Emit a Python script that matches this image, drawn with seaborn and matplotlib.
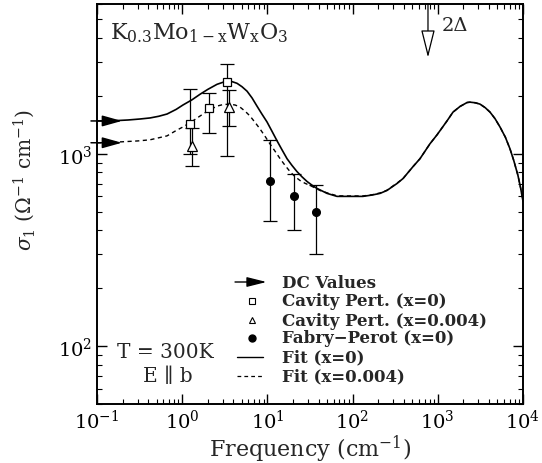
import matplotlib
matplotlib.use("Agg")
import matplotlib.pyplot as plt
import seaborn as sns
import pandas as pd

# curves (frequency in cm^-1, sigma_1 in Ohm^-1 cm^-1)
fit0_freq = [0.1, 0.15, 0.231, 0.32, 0.419, 0.53, 0.664, 0.85, 1.02, 1.3, 1.62,
             2.0, 2.56, 3.0, 3.36, 3.9, 4.40, 5.03, 5.77, 6.6, 7.55, 8.6, 9.89,
             11.3, 12.97, 14.8, 17.0, 19.4, 22.2, 25.5, 29.2, 33.4, 38.2, 44, 50.1,
             65.6, 86.0, 132, 170, 210, 253, 332, 391, 512, 618, 809, 979, 1282,
             1508, 1823, 2203, 2390, 2750, 3128, 3600, 4100, 4700, 5370, 6200,
             7030, 7800, 8730, 9400, 10000]
fit0_sigma = [1480, 1482, 1497, 1515, 1534, 1565, 1608, 1700, 1791, 1905, 2037,
              2160, 2294, 2350, 2378, 2365, 2322, 2230, 2113, 1950, 1767, 1610, 1463,
              1310, 1167, 1050, 942, 870, 808, 758, 717, 686, 660, 640, 622,
              600, 600, 600, 610, 622, 644, 700, 743, 857, 942, 1126, 1253, 1480,
              1645, 1760, 1845, 1853, 1840, 1810, 1735, 1645, 1520, 1377, 1220,
              1061, 920, 770, 660, 566]

fit4_freq = [0.1, 0.196, 0.3, 0.419, 0.664, 0.85, 1.02, 1.3, 1.62, 2.0, 2.56,
             3.0, 3.64, 4.2, 4.77, 5.5, 6.25, 7.2, 8.19, 9.4, 10.7, 12.3, 14.1,
             16.1, 18.4, 21.1, 24.1, 27.6, 31.6, 36.2, 41.4, 50.1, 65.6, 86.0,
             132, 170, 210, 253, 332, 391, 512, 618, 809, 979, 1282,
             1508, 1823, 2203, 2390, 2750, 3128, 3600, 4100, 4700, 5370, 6200,
             7030, 7800, 8730, 9400, 10000]
fit4_sigma = [1139, 1153, 1165, 1181, 1238, 1320, 1377, 1470, 1570, 1670, 1767,
              1800, 1810, 1790, 1747, 1660, 1570, 1450, 1345, 1230, 1126, 1030, 942,
              870, 808, 760, 726, 702, 684, 664, 644, 626, 604, 603,
              603, 612, 625, 646, 703, 743, 857, 942, 1126, 1253, 1480,
              1645, 1760, 1845, 1853, 1840, 1810, 1735, 1645, 1520, 1377, 1220,
              1061, 920, 770, 660, 566]

cav0_freq = [1.23, 2.06, 3.36]
cav0_sigma = [1428, 1727, 2350]
cav0_lo = [1000, 1283, 977]
cav0_hi = [2163, 2062, 2910]

cav4_freq = [1.30, 3.53]
cav4_sigma = [1100, 1746]
cav4_lo = [867, 1394]
cav4_hi = [1362, 2150]

fp_freq = [10.7, 20.5, 37.2]
fp_sigma = [717, 600, 496]
fp_lo = [446, 401, 302]
fp_hi = [1181, 789, 684]

dc_values = [1480, 1140]
gap_freq = 767

legend_labels = ["DC Values", "Cavity Pert. (x=0)", "Cavity Pert. (x=0.004)",
                 "Fabry\u2212Perot (x=0)", "Fit (x=0)", "Fit (x=0.004)"]

sns.set_theme(style="ticks")
plt.rcParams["font.family"] = ["DejaVu Serif"]
plt.rcParams["mathtext.fontset"] = "dejavuserif"

fig = plt.figure(figsize=(5.42, 4.64), dpi=100)
ax = fig.add_axes([97 / 542, 59 / 464, 426 / 542, 400 / 464])

df0 = pd.DataFrame({"f": fit0_freq, "s": fit0_sigma})
df4 = pd.DataFrame({"f": fit4_freq, "s": fit4_sigma})
sns.lineplot(data=df0, x="f", y="s", ax=ax, color="black", lw=1.2,
             sort=False, estimator=None)
sns.lineplot(data=df4, x="f", y="s", ax=ax, color="black", lw=1.0,
             sort=False, estimator=None)
ax.lines[-1].set_dashes((3, 2.5))
for ln in ax.lines:
    ln.set_solid_joinstyle("round")

def errbars(f, s, lo, hi):
    ax.errorbar(f, s, yerr=[[a - b for a, b in zip(s, lo)], [b - a for a, b in zip(s, hi)]],
                fmt="none", ecolor="black", elinewidth=0.9, capsize=4.7, capthick=0.9)

errbars(cav0_freq, cav0_sigma, cav0_lo, cav0_hi)
errbars(cav4_freq, cav4_sigma, cav4_lo, cav4_hi)
errbars(fp_freq, fp_sigma, fp_lo, fp_hi)

ax.plot(cav0_freq, cav0_sigma, "s", ms=6, mfc="white", mec="black", mew=0.9, ls="none")
ax.plot(cav4_freq, cav4_sigma, "^", ms=6.5, mfc="white", mec="black", mew=0.9, ls="none")
ax.plot(fp_freq, fp_sigma, "o", ms=5.5, color="black", ls="none")

# DC arrows at the left edge
for v in dc_values:
    ax.annotate("", xy=(0.196, v), xytext=(0.085, v), annotation_clip=False,
                arrowprops=dict(arrowstyle="-|>,head_length=1.0,head_width=0.28",
                                color="black", lw=1.1, shrinkA=0, shrinkB=0))

# 2 Delta arrow
ax.annotate("", xy=(gap_freq, 3160), xytext=(gap_freq, 6000),
            arrowprops=dict(arrowstyle="-|>,head_length=1.44,head_width=0.36",
                            fc="white", ec="black", lw=0.9, shrinkA=0, shrinkB=0))
ax.text(0.81, 0.9475, "2\u0394", transform=ax.transAxes, fontsize=14,
        ha="left", va="center")

ax.set_xscale("log")
ax.set_yscale("log")
ax.set_xlim(0.1, 1e4)
ax.set_ylim(50, 6000)

ax.text(0.03, 0.93, r"$\mathrm{K_{0.3}Mo_{1-x}W_xO_3}$", transform=ax.transAxes,
        fontsize=16, ha="left", va="center")
ax.text(0.16, 0.13, "T = 300K", transform=ax.transAxes, fontsize=14.5,
        ha="center", va="center")
ax.text(0.167, 0.07, "E \u2225 b", transform=ax.transAxes, fontsize=14.5,
        ha="center", va="center")

# hand-made legend
rows = [0.305, 0.2575, 0.21, 0.165, 0.1175, 0.07]
hx0, hx1, hm, tx = 0.324, 0.398, 0.364, 0.434
ax.annotate("", xy=(hx1, rows[0]), xytext=(hx0, rows[0]), xycoords="axes fraction",
            arrowprops=dict(arrowstyle="-|>,head_length=1.0,head_width=0.25",
                            color="black", lw=1.0, shrinkA=0, shrinkB=0))
ax.plot([hm], [rows[1]], "s", ms=5, mfc="white", mec="black", mew=0.8,
        transform=ax.transAxes)
ax.plot([hm], [rows[2]], "^", ms=5, mfc="white", mec="black", mew=0.8,
        transform=ax.transAxes)
ax.plot([hm], [rows[3]], "o", ms=5, color="black", transform=ax.transAxes)
ax.plot([0.329, 0.39], [rows[4]] * 2, color="black", lw=1.0, transform=ax.transAxes)
ax.plot([0.329, 0.39], [rows[5]] * 2, color="black", lw=0.9, dashes=(3, 2.5),
        transform=ax.transAxes)
for r, lab in zip(rows, legend_labels):
    ax.text(tx, r, lab, transform=ax.transAxes, fontsize=12, fontweight="bold",
            ha="left", va="center")

ax.set_xlabel(r"Frequency (cm$^{-1}$)", fontsize=16, labelpad=0)
ax.set_ylabel(r"$\sigma_1$ ($\Omega^{-1}$ cm$^{-1}$)", fontsize=14.5)
ax.yaxis.set_label_coords(-0.141, 0.5625)
ax.tick_params(which="both", direction="in", top=True, right=True, colors="black",
               labelsize=14)
ax.tick_params(which="major", length=7, width=1.0)
ax.tick_params(which="minor", length=3.5, width=0.8)
for sp in ax.spines.values():
    sp.set_linewidth(1.4)
    sp.set_color("black")

fig.savefig("out.png", dpi=100)
